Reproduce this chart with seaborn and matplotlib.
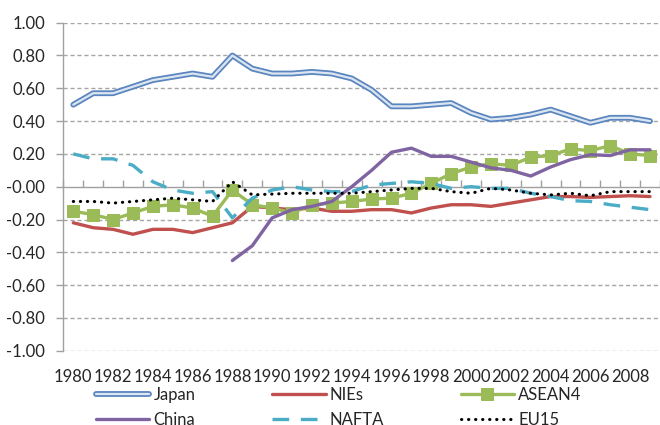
import numpy as np
import pandas as pd
import matplotlib
matplotlib.use("Agg")
import matplotlib.pyplot as plt
import matplotlib.patheffects as pe
import seaborn as sns

years = list(range(1980, 2010))
tick_years = [str(y) for y in years[::2]]

japan = [0.50, 0.57, 0.57, 0.61, 0.65, 0.67, 0.69, 0.67, 0.80, 0.72,
         0.69, 0.69, 0.70, 0.69, 0.66, 0.59, 0.49, 0.49, 0.50, 0.51,
         0.45, 0.41, 0.42, 0.44, 0.47, 0.43, 0.39, 0.42, 0.42, 0.40]
nies = [-0.22, -0.25, -0.26, -0.29, -0.26, -0.26, -0.28, -0.25, -0.22, -0.12,
        -0.13, -0.14, -0.13, -0.15, -0.15, -0.14, -0.14, -0.16, -0.13, -0.11,
        -0.11, -0.12, -0.10, -0.08, -0.06, -0.06, -0.065, -0.06, -0.055, -0.06]
asean4 = [-0.15, -0.17, -0.20, -0.16, -0.12, -0.11, -0.13, -0.18, -0.02, -0.11,
          -0.13, -0.16, -0.11, -0.10, -0.09, -0.075, -0.07, -0.04, 0.02, 0.08,
          0.12, 0.14, 0.13, 0.18, 0.19, 0.23, 0.22, 0.25, 0.20, 0.19]
china = [np.nan] * 8 + [-0.45, -0.36,
         -0.19, -0.14, -0.12, -0.09, 0.00, 0.10, 0.21, 0.235, 0.185, 0.185,
         0.15, 0.115, 0.10, 0.065, 0.12, 0.165, 0.195, 0.19, 0.225, 0.225]
nafta = [0.20, 0.17, 0.17, 0.13, 0.03, -0.02, -0.04, -0.03, -0.19, -0.07,
         -0.02, 0.00, -0.02, -0.03, -0.03, 0.01, 0.02, 0.03, 0.02, -0.01,
         0.00, -0.01, -0.01, -0.04, -0.06, -0.085, -0.09, -0.11, -0.125, -0.14]
eu15 = [-0.09, -0.09, -0.10, -0.09, -0.08, -0.07, -0.08, -0.09, 0.03, -0.05,
        -0.045, -0.04, -0.04, -0.04, -0.04, -0.03, -0.02, -0.01, -0.01, -0.03,
        -0.04, -0.01, -0.02, -0.04, -0.05, -0.04, -0.055, -0.03, -0.03, -0.03]

df = pd.DataFrame({
    "pos": np.arange(len(years)),
    "Japan": japan, "NIEs": nies, "ASEAN4": asean4,
    "China": china, "NAFTA": nafta, "EU15": eu15,
})

sns.set_theme(style="white")
plt.rcParams["font.family"] = ["Lato", "DejaVu Sans"]

fig = plt.figure(figsize=(6.6, 4.25), dpi=100)
ax = fig.add_axes([0.096, 0.1748, 0.904, 0.7718])

grid_c = "#A6A6A6"
for v in np.arange(-1.0, 1.01, 0.2):
    if abs(v) > 1e-9:
        ax.axhline(v, color=grid_c, lw=1.0, ls=(0, (3, 2)), zorder=0)

styles = {
    "Japan": dict(color="#DCE6F2", lw=1.6,
                  path_effects=[pe.Stroke(linewidth=4.2, foreground="#5B86BF"), pe.Normal()]),
    "NIEs": dict(color="#C0504D", lw=2.4),
    "ASEAN4": dict(color="#9BBB59", lw=2.4, marker="s", markersize=8.5,
                   markeredgecolor="#9BBB59"),
    "China": dict(color="#8064A2", lw=2.4),
    "NAFTA": dict(color="#4BACC6", lw=2.4, dashes=(5, 3.5)),
    "EU15": dict(color="#000000", lw=2.2, dashes=(0.1, 2.2), dash_capstyle="round"),
}
handles = {}
for name in ["Japan", "NIEs", "ASEAN4", "China", "NAFTA", "EU15"]:
    kw = dict(styles[name])
    dashes = kw.pop("dashes", None)
    cap = kw.pop("dash_capstyle", None)
    sns.lineplot(data=df, x="pos", y=name, ax=ax, label=name, legend=False, **kw)
    line = ax.lines[-1]
    if dashes is not None:
        line.set_dashes(dashes)
    if cap is not None:
        line.set_dash_capstyle(cap)
    line.set_zorder(3)
    handles[name] = line

ax.set_xlim(-0.5, len(years) - 0.5)
ax.set_ylim(-1.0, 1.0)
ax.set_yticks(np.round(np.arange(-1.0, 1.01, 0.2), 2))
ax.set_yticklabels([f"{v:.2f}" for v in np.arange(-1.0, 1.01, 0.2)])
ax.set_xticks(np.arange(0, len(years), 2))
ax.set_xticklabels(tick_years)
ax.set_xlabel("")
ax.set_ylabel("")

for s in ["top", "right", "bottom"]:
    ax.spines[s].set_visible(False)
ax.spines["left"].set_color("#A0A0A0")
ax.spines["left"].set_linewidth(1.0)
ax.tick_params(axis="y", direction="out", length=5, width=1, color="#A0A0A0",
               labelsize=12, labelcolor="#262626", pad=8, left=True)
ax.tick_params(axis="x", length=0, labelsize=12, labelcolor="#262626", pad=13)

# category axis drawn through zero, with tick marks between categories
sec = ax.secondary_xaxis(0.5)
sec.set_xticks(np.arange(-0.5, len(years), 1.0))
sec.set_xticklabels([])
sec.tick_params(axis="x", direction="out", length=5, width=1, color="#A0A0A0")
for sp in sec.spines.values():
    sp.set_color("#A0A0A0")
    sp.set_linewidth(1.0)

order = ["Japan", "China", "NIEs", "NAFTA", "ASEAN4", "EU15"]
fig.legend([handles[n] for n in order], order, ncol=3, loc="upper left",
           bbox_to_anchor=(0.1456, 0.089), frameon=False, numpoints=1,
           fontsize=12, handlelength=3.2, handletextpad=0.25,
           columnspacing=4.6, labelspacing=0.5, borderaxespad=0, borderpad=0)

fig.savefig("out.png", dpi=100)
